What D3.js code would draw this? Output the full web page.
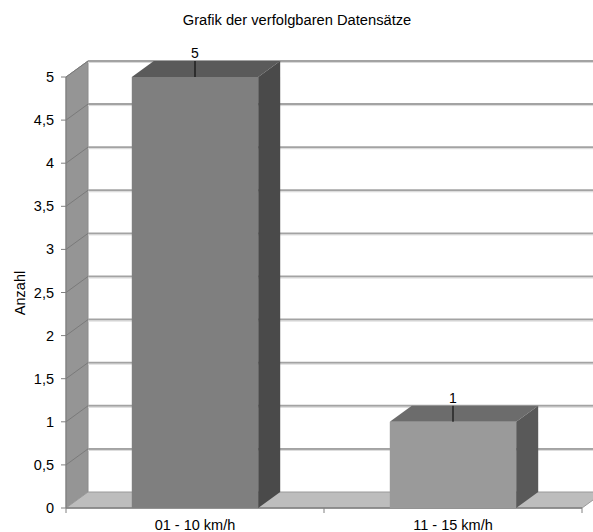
<!DOCTYPE html>
<html>
<head>
<meta charset="utf-8">
<script src="https://cdn.jsdelivr.net/npm/d3@7"></script>
<style>
  html, body { margin: 0; padding: 0; background: #fff; }
  svg { display: block; font-family: "Liberation Sans", Arial, sans-serif; }
</style>
</head>
<body>
<svg id="chart" width="593" height="532"></svg>
<script>
const title = "Grafik der verfolgbaren Datensätze";
const yTitle = "Anzahl";
const categories = ["01 - 10 km/h", "11 - 15 km/h"];
const values = [5, 1];
const tickValues = [0, 0.5, 1, 1.5, 2, 2.5, 3, 3.5, 4, 4.5, 5];
const tickLabels = ["0", "0,5", "1", "1,5", "2", "2,5", "3", "3,5", "4", "4,5", "5"];
const frontColors = ["#7f7f7f", "#9a9a9a"];
const topColors = ["#5a5a5a", "#6c6c6c"];
const sideColors = ["#4a4a4a", "#595959"];

(function () {
const svg = d3.select("#chart");
const pLeft = 66, pRight = 582, pTop = 77, pBottom = 508;
const dx = 22, dy = 16;
const fs = 14.5;

const y = d3.scaleLinear().domain([0, 5]).range([pBottom, pTop]);
const x = d3.scaleBand().domain(categories).range([pLeft, pRight]).paddingInner(0).paddingOuter(0);
const barW = x.bandwidth() * 0.49;
const pts = arr => arr.map(p => p.join(",")).join(" ");

// Title
svg.append("text").attr("x", 297).attr("y", 25).attr("text-anchor", "middle")
  .attr("font-size", 14.7).attr("fill", "#000").text(title);

// Side wall
svg.append("polygon")
  .attr("points", pts([[pLeft, y(0)], [pLeft, y(5)], [pLeft + dx, y(5) - dy], [pLeft + dx, y(0) - dy]]))
  .attr("fill", "#959595").attr("stroke", "#8a8a8a").attr("stroke-width", 1);

// Floor
svg.append("polygon")
  .attr("points", pts([[pLeft, y(0)], [pRight, y(0)], [pRight + dx, y(0) - dy], [pLeft + dx, y(0) - dy]]))
  .attr("fill", "#bdbdbd").attr("stroke", "#9a9a9a").attr("stroke-width", 1);

// Gridlines (back wall + side wall)
const grid = svg.append("g");
tickValues.filter(v => v > 0).forEach(v => {
  grid.append("line").attr("x1", pLeft + dx).attr("x2", 600)
    .attr("y1", y(v) - dy).attr("y2", y(v) - dy)
    .attr("stroke", "#a3a3a3").attr("stroke-width", 2);
  grid.append("line").attr("x1", pLeft + dx).attr("x2", 600)
    .attr("y1", y(v) - dy + 1.5).attr("y2", y(v) - dy + 1.5)
    .attr("stroke", "#d9d9d9").attr("stroke-width", 1);
  grid.append("line").attr("x1", pLeft).attr("x2", pLeft + dx)
    .attr("y1", y(v)).attr("y2", y(v) - dy)
    .attr("stroke", "#7a7a7a").attr("stroke-width", 1);
});

// Axes
const axisColor = "#808080";
svg.append("line").attr("x1", pLeft).attr("x2", pLeft).attr("y1", y(5)).attr("y2", y(0))
  .attr("stroke", axisColor).attr("stroke-width", 1);
svg.append("line").attr("x1", pLeft).attr("x2", pRight).attr("y1", y(0)).attr("y2", y(0))
  .attr("stroke", axisColor).attr("stroke-width", 1.5);

const yTicks = svg.append("g");
tickValues.forEach((v, i) => {
  yTicks.append("line").attr("x1", pLeft - 5).attr("x2", pLeft).attr("y1", y(v)).attr("y2", y(v))
    .attr("stroke", axisColor);
  yTicks.append("text").attr("x", 54).attr("y", y(v)).attr("dy", "0.35em")
    .attr("text-anchor", "end").attr("font-size", fs).attr("fill", "#000").text(tickLabels[i]);
});

const xTickPos = categories.map(c => x(c)).concat([pRight]);
xTickPos.forEach(p => {
  svg.append("line").attr("x1", p).attr("x2", p).attr("y1", y(0)).attr("y2", y(0) + 5)
    .attr("stroke", axisColor);
});
categories.forEach(c => {
  svg.append("text").attr("x", x(c) + x.bandwidth() / 2).attr("y", 530)
    .attr("text-anchor", "middle").attr("font-size", fs).attr("fill", "#000").text(c);
});

// Y title
svg.append("text").attr("transform", "translate(25,293) rotate(-90)")
  .attr("text-anchor", "middle").attr("font-size", fs).attr("fill", "#000").text(yTitle);

// Bars
const bars = svg.append("g");
categories.forEach((c, i) => {
  const cx = x(c) + x.bandwidth() / 2;
  const x0 = cx - barW / 2, x1 = cx + barW / 2;
  const yt = y(values[i]), yb = y(0);
  bars.append("rect").attr("x", x0).attr("y", yt).attr("width", x1 - x0).attr("height", yb - yt)
    .attr("fill", frontColors[i]);
  bars.append("polygon")
    .attr("points", pts([[x0, yt], [x1, yt], [x1 + dx, yt - dy], [x0 + dx, yt - dy]]))
    .attr("fill", topColors[i]);
  bars.append("polygon")
    .attr("points", pts([[x1, yt], [x1 + dx, yt - dy], [x1 + dx, yb - dy], [x1, yb]]))
    .attr("fill", sideColors[i]);
  bars.append("line").attr("x1", cx).attr("x2", cx).attr("y1", yt - dy).attr("y2", yt)
    .attr("stroke", "#000").attr("stroke-width", 1);
  bars.append("text").attr("x", cx).attr("y", yt - dy - 3).attr("text-anchor", "middle")
    .attr("font-size", 14).attr("fill", "#000").text(values[i]);
});
})();
</script>
</body>
</html>
